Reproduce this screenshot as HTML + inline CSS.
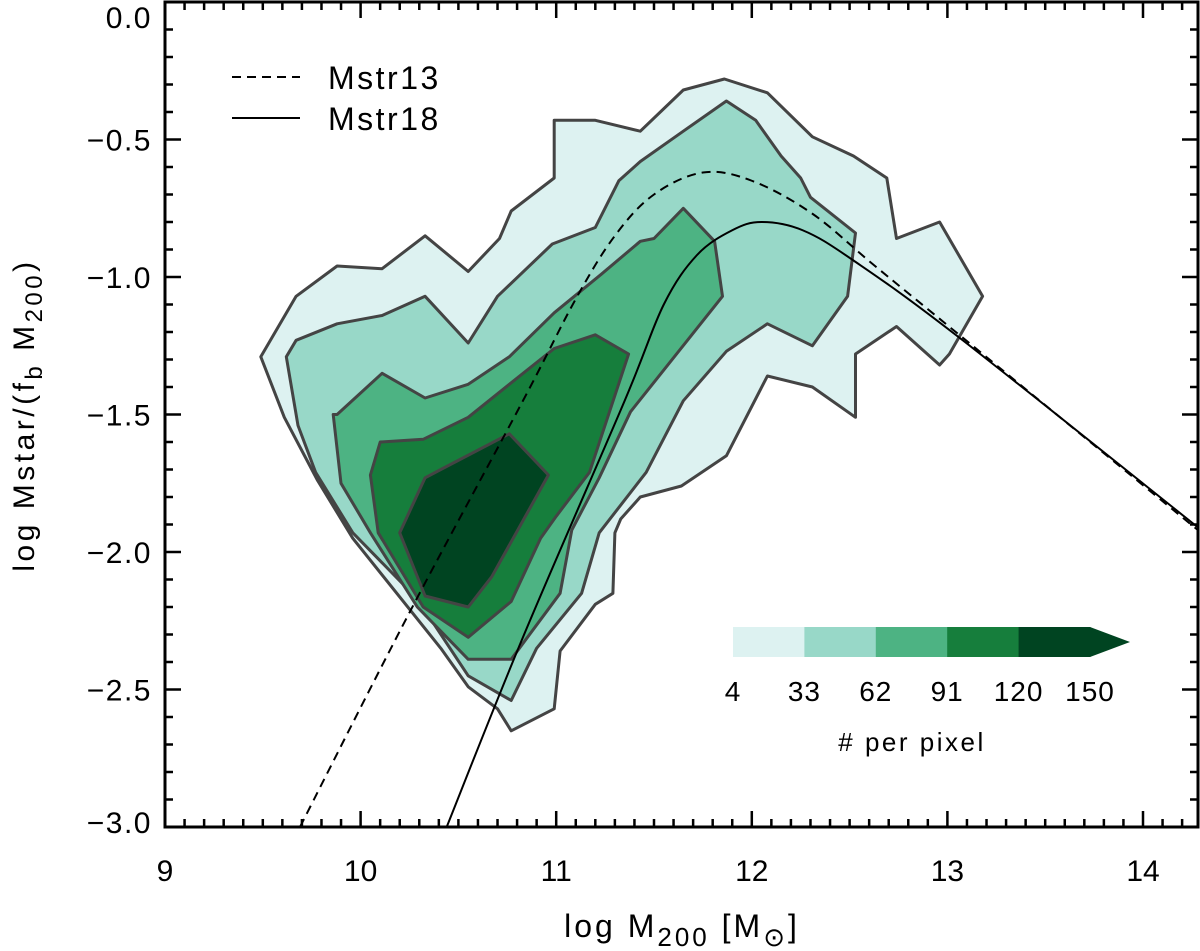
<!DOCTYPE html>
<html><head><meta charset="utf-8">
<style>
html,body{margin:0;padding:0;background:#fff;}
svg{display:block;font-family:"Liberation Sans",sans-serif;}
</style></head>
<body>
<svg id="chart" width="1200" height="951" viewBox="0 0 1200 951" xmlns="http://www.w3.org/2000/svg">
<defs><clipPath id="plotclip"><rect x="165" y="2" width="1033" height="825"/></clipPath></defs>
<g id="contours" clip-path="url(#plotclip)"></g>
<g id="curves" clip-path="url(#plotclip)"></g>
<g id="axes"></g>
<g id="legend">
  <line x1="232" y1="77" x2="300" y2="77" stroke="#000" stroke-width="2" stroke-dasharray="9,6"/>
  <text x="328" y="89" font-size="32" letter-spacing="2.5">Mstr13</text>
  <line x1="232" y1="118" x2="300" y2="118" stroke="#000" stroke-width="2"/>
  <text x="328" y="130" font-size="32" letter-spacing="2.5">Mstr18</text>
</g>
<g id="colorbar"></g>
<text x="682" y="937" font-size="32" letter-spacing="3" text-anchor="middle">log M<tspan font-size="26" dy="9">200</tspan><tspan dy="-9"> [M</tspan><tspan font-size="26" dy="9">⊙</tspan><tspan dy="-9">]</tspan></text>
<text transform="translate(34,415) rotate(-90)" font-size="30" letter-spacing="3.5" text-anchor="middle">log Mstar/(f<tspan font-size="24" dy="8">b</tspan><tspan dy="-8"> M</tspan><tspan font-size="24" dy="8">200</tspan><tspan dy="-8">)</tspan></text>
</svg>
<script>
const levelColors = ["#ddf2f1","#98d8c8","#4db383","#167e3c","#004421"];
const level1 = [[9.49,-1.29],[9.67,-1.07],[9.88,-0.96],[10.11,-0.97],[10.33,-0.85],[10.55,-0.98],[10.71,-0.86],[10.77,-0.76],[10.99,-0.64],[10.99,-0.43],[11.20,-0.43],[11.43,-0.47],[11.65,-0.32],[11.86,-0.28],[12.08,-0.33],[12.31,-0.49],[12.52,-0.56],[12.69,-0.64],[12.74,-0.86],[12.96,-0.80],[13.18,-1.07],[13.01,-1.28],[12.96,-1.32],[12.74,-1.18],[12.53,-1.28],[12.53,-1.51],[12.31,-1.40],[12.08,-1.36],[11.87,-1.65],[11.64,-1.76],[11.43,-1.80],[11.33,-1.88],[11.30,-1.93],[11.29,-2.15],[11.20,-2.19],[11.02,-2.36],[10.99,-2.57],[10.77,-2.65],[10.70,-2.57],[10.55,-2.49],[10.41,-2.35],[9.96,-1.95],[9.78,-1.74],[9.61,-1.51]];
const level2 = [[9.62,-1.29],[9.67,-1.23],[9.88,-1.17],[10.11,-1.14],[10.33,-1.07],[10.55,-1.24],[10.70,-1.07],[10.98,-0.88],[11.20,-0.82],[11.32,-0.65],[11.43,-0.58],[11.65,-0.47],[11.87,-0.36],[12.02,-0.43],[12.15,-0.56],[12.25,-0.64],[12.30,-0.71],[12.53,-0.84],[12.49,-1.07],[12.31,-1.25],[12.08,-1.17],[11.87,-1.27],[11.65,-1.45],[11.46,-1.71],[11.22,-1.93],[11.13,-2.15],[10.90,-2.35],[10.77,-2.54],[10.55,-2.45],[10.29,-2.17],[9.96,-1.93],[9.77,-1.71],[9.68,-1.54]];
const level3 = [[9.88,-1.50],[10.11,-1.35],[10.33,-1.44],[10.55,-1.39],[10.76,-1.29],[10.99,-1.13],[11.23,-0.99],[11.43,-0.87],[11.50,-0.86],[11.65,-0.75],[11.81,-0.87],[11.85,-1.07],[11.38,-1.49],[11.22,-1.73],[11.08,-1.92],[11.02,-2.15],[10.77,-2.39],[10.55,-2.39],[10.29,-2.20],[10.05,-1.93],[9.90,-1.75],[9.86,-1.50]];
const level4 = [[10.99,-1.26],[11.20,-1.21],[11.37,-1.28],[11.17,-1.71],[11.00,-1.87],[10.92,-1.95],[10.77,-2.18],[10.55,-2.31],[10.32,-2.20],[10.09,-1.93],[10.05,-1.72],[10.10,-1.60],[10.32,-1.59],[10.55,-1.51],[10.76,-1.39]];
const level5 = [[10.33,-1.73],[10.41,-1.70],[10.76,-1.57],[10.96,-1.72],[10.67,-2.09],[10.55,-2.20],[10.33,-2.16],[10.20,-1.93]];
const mstr13X = [9.69,10.25,10.83,11.10,11.30,11.50,11.75,12.00,12.31,12.63,13.06,14.28];
const mstr13Y = [-3.00,-2.22,-1.45,-1.08,-0.85,-0.70,-0.62,-0.65,-0.77,-0.96,-1.21,-1.92];
const mstr18X = [10.44,10.83,11.35,11.55,11.72,11.90,12.05,12.26,12.52,13.06,14.28];
const mstr18Y = [-3.00,-2.31,-1.45,-1.10,-0.92,-0.83,-0.80,-0.83,-0.94,-1.22,-1.91];
const xTicks = [9,10,11,12,13,14];
const yTicks = [0.0,-0.5,-1.0,-1.5,-2.0,-2.5,-3.0];
const yTickLabels = ["0.0","\u22120.5","\u22121.0","\u22121.5","\u22122.0","\u22122.5","\u22123.0"];
const cbarLabels = ["4","33","62","91","120","150"];

const NS="http://www.w3.org/2000/svg";
const X0=165,X1=1198,Y0=827,Y1=2;
function sx(v){return 165+(v-9)*195.6;}
function sy(v){return 827-(v+3)*275;}
function mk(tag,parent){const e=document.createElementNS(NS,tag);parent.appendChild(e);return e;}

const cg=document.getElementById('contours');
const levels=[level1,level2,level3,level4,level5];
levels.forEach((poly,i)=>{
  const p=mk('polygon',cg);
  p.setAttribute('points',poly.map(d=>sx(d[0]).toFixed(1)+','+sy(d[1]).toFixed(1)).join(' '));
  p.setAttribute('fill',levelColors[i]);
  p.setAttribute('stroke','#444');
  p.setAttribute('stroke-width','3');
  p.setAttribute('stroke-linejoin','round');
  
  
});

function smoothPath(xs,ys){
  const pts=xs.map((x,i)=>[sx(x),sy(ys[i])]);
  let d='M'+pts[0][0]+','+pts[0][1];
  for(let i=0;i<pts.length-1;i++){
    const p0=pts[Math.max(i-1,0)],p1=pts[i],p2=pts[i+1],p3=pts[Math.min(i+2,pts.length-1)];
    const c1=[p1[0]+(p2[0]-p0[0])/6,p1[1]+(p2[1]-p0[1])/6];
    const c2=[p2[0]-(p3[0]-p1[0])/6,p2[1]-(p3[1]-p1[1])/6];
    d+=' C'+c1.join(',')+' '+c2.join(',')+' '+p2.join(',');
  }
  return d;
}
const cv=document.getElementById('curves');
const c13=mk('path',cv);
c13.setAttribute('d',smoothPath(mstr13X,mstr13Y));
c13.setAttribute('fill','none');c13.setAttribute('stroke','#000');c13.setAttribute('stroke-width','2');c13.setAttribute('stroke-dasharray','9,6');


const c18=mk('path',cv);
c18.setAttribute('d',smoothPath(mstr18X,mstr18Y));
c18.setAttribute('fill','none');c18.setAttribute('stroke','#000');c18.setAttribute('stroke-width','2');



const ax=document.getElementById('axes');
const frame=mk('rect',ax);
frame.setAttribute('x',X0);frame.setAttribute('y',Y1);frame.setAttribute('width',X1-X0);frame.setAttribute('height',Y0-Y1);
frame.setAttribute('fill','none');frame.setAttribute('stroke','#000');frame.setAttribute('stroke-width','3');


let td='';
for(let v=9;v<=14.3;v+=0.1){
  const x=sx(v);if(x>X1)break;
  const major=Math.abs(v-Math.round(v))<1e-6;const L=major?16:8;
  td+=`M${x},${Y0}V${Y0-L}M${x},${Y1}V${Y1+L}`;
}
for(let v=-3;v<=0.001;v+=0.1){
  const y=sy(v);
  const major=Math.abs(v*2-Math.round(v*2))<1e-6;const L=major?16:8;
  td+=`M${X0},${y}H${X0+L}M${X1},${y}H${X1-L}`;
}
const ticks=mk('path',ax);
ticks.setAttribute('d',td);ticks.setAttribute('stroke','#000');ticks.setAttribute('stroke-width','2.5');


xTicks.forEach(v=>{
  const t=mk('text',ax);
  t.setAttribute('x',sx(v));t.setAttribute('y',881);t.setAttribute('font-size','30');t.setAttribute('text-anchor','middle');
  t.textContent=String(v);
  
  
});
yTicks.forEach((v,i)=>{
  const t=mk('text',ax);
  let y=sy(v)+11; if(v===0) y=28; if(v===-3) y=sy(v)+6;
  t.setAttribute('x',152);t.setAttribute('y',y);t.setAttribute('font-size','30');t.setAttribute('letter-spacing','1.5');t.setAttribute('text-anchor','end');
  t.textContent=yTickLabels[i];
  
  
});

const cb=document.getElementById('colorbar');
const cbX=733,cbW=71.4,cbY=627,cbH=30;
levelColors.forEach((c,i)=>{
  const r=mk('rect',cb);
  r.setAttribute('x',cbX+i*cbW);r.setAttribute('y',cbY);r.setAttribute('width',cbW+0.5);r.setAttribute('height',cbH);r.setAttribute('fill',c);
  
  
});
const tri=mk('polygon',cb);
tri.setAttribute('points',`${cbX+5*cbW},${cbY} ${cbX+5*cbW+40},${cbY+cbH/2} ${cbX+5*cbW},${cbY+cbH}`);
tri.setAttribute('fill','#004421');


cbarLabels.forEach((s,i)=>{
  const t=mk('text',cb);
  t.setAttribute('x',cbX+i*cbW);t.setAttribute('y',701);t.setAttribute('font-size','28');t.setAttribute('letter-spacing','1');t.setAttribute('text-anchor','middle');
  t.textContent=s;
  
  
});
const cbt=mk('text',cb);
cbt.setAttribute('x',912);cbt.setAttribute('y',751);cbt.setAttribute('font-size','26');cbt.setAttribute('letter-spacing','2.5');cbt.setAttribute('text-anchor','middle');
cbt.textContent='# per pixel';


</script>
</body></html>
